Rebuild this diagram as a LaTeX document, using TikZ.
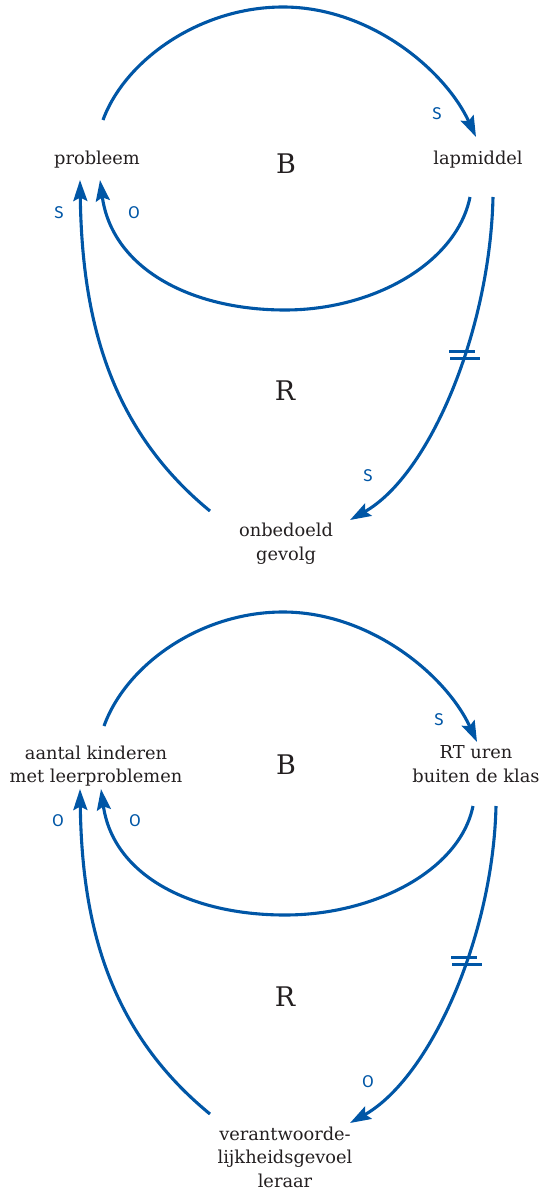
\documentclass[tikz,border=0pt]{standalone}
\usepackage{fontspec}
\setmainfont{DejaVu Serif}
\newfontfamily\labelfont{Fira Sans}
\usetikzlibrary{arrows.meta}
\definecolor{loopblue}{RGB}{0,86,166}
\definecolor{txt}{RGB}{35,31,32}
\tikzset{
  var/.style={text=txt, font=\fontsize{17.8}{23.5}\selectfont, align=center, inner sep=0pt},
  loopname/.style={text=txt, font=\fontsize{27}{30}\selectfont, inner sep=0pt, anchor=base},
  pol/.style={text=loopblue, font=\labelfont\fontsize{17}{20}\selectfont, inner sep=0pt},
  link/.style={draw=loopblue, line width=3.1pt, -{Stealth[length=21pt,width=14pt,inset=3.5pt]}},
  delaybar/.style={draw=loopblue, line width=3.1pt},
}
\begin{document}
\begin{tikzpicture}[x=1pt,y=-1pt]
\useasboundingbox (0,0) rectangle (542,1193);
% ---------- top diagram ----------
\node[var, anchor=base] (p) at (97,165) {probleem};
\node[var, anchor=base] (l) at (478,165) {lapmiddel};
\node[var, anchor=north] (g) at (286,523) {onbedoeld\\gevolg};
\node[loopname] (B1) at (286,174) {B};
\node[loopname] (R1) at (285,400) {R};
\coordinate (p-out) at (103,120);
\coordinate (l-in) at (476,137);
\coordinate (l-out1) at (470,197);
\coordinate (p-in1) at (100,180);
\coordinate (l-out2) at (493,197);
\coordinate (g-in) at (350,520);
\coordinate (g-out) at (210,511);
\coordinate (p-in2) at (80,180);
\draw[link] (p-out) .. controls (125,60) and (200,7) .. (283,7)
  .. controls (370,7) and (445,70) .. (l-in);
\draw[link] (l-out1) .. controls (457,262) and (375,310) .. (285,310)
  .. controls (190,310) and (112,268) .. (p-in1);
\draw[link] (g-out) .. controls (105,425) and (82,310) .. (p-in2);
\draw[link] (l-out2) .. controls (490,330) and (430,475) .. (g-in) coordinate[pos=0.4] (d1);
\draw[delaybar] ([xshift=-14pt,yshift=-3.5pt]d1) -- ([xshift=16pt,yshift=-3.5pt]d1);
\draw[delaybar] ([xshift=-15pt,yshift=3.5pt]d1) -- ([xshift=11pt,yshift=3.5pt]d1);
\node[pol] (s1) at (437,114) {S};
\node[pol] (o1) at (134,213) {O};
\node[pol] (s2) at (59,213) {S};
\node[pol] (s3) at (368,476) {S};
% ---------- bottom diagram ----------
\begin{scope}[yshift=-605pt]
\node[var, anchor=north] (q) at (96,140.5) {aantal kinderen\\met leerproblemen};
\node[var, anchor=north] (m) at (476,140.5) {RT uren\\buiten de klas};
\node[var, anchor=north] (v) at (285,521.5) {verantwoorde-\\lijkheidsgevoel\\leraar};
\node[loopname] (B2) at (286,169) {B};
\node[loopname] (R2) at (285,401) {R};
\coordinate (q-out) at (104,121);
\coordinate (m-in) at (477,137);
\coordinate (m-out1) at (473,201);
\coordinate (q-in1) at (101,184);
\coordinate (m-out2) at (496,201);
\coordinate (v-in) at (350,518);
\coordinate (v-out) at (210,509);
\coordinate (q-in2) at (80,184);
\draw[link] (q-out) .. controls (126,60) and (200,7) .. (283,7)
  .. controls (370,7) and (446,70) .. (m-in);
\draw[link] (m-out1) .. controls (460,265) and (375,310) .. (285,310)
  .. controls (190,310) and (113,270) .. (q-in1);
\draw[link] (v-out) .. controls (105,423) and (82,312) .. (q-in2);
\draw[link] (m-out2) .. controls (493,332) and (430,473) .. (v-in) coordinate[pos=0.4] (d2);
\draw[delaybar] ([xshift=-14pt,yshift=-3.5pt]d2) -- ([xshift=16pt,yshift=-3.5pt]d2);
\draw[delaybar] ([xshift=-15pt,yshift=3.5pt]d2) -- ([xshift=11pt,yshift=3.5pt]d2);
\node[pol] (s4) at (439,115) {S};
\node[pol] (o2) at (135,216) {O};
\node[pol] (o3) at (58,216) {O};
\node[pol] (o4) at (368,477) {O};
\end{scope}
\end{tikzpicture}
\end{document}
